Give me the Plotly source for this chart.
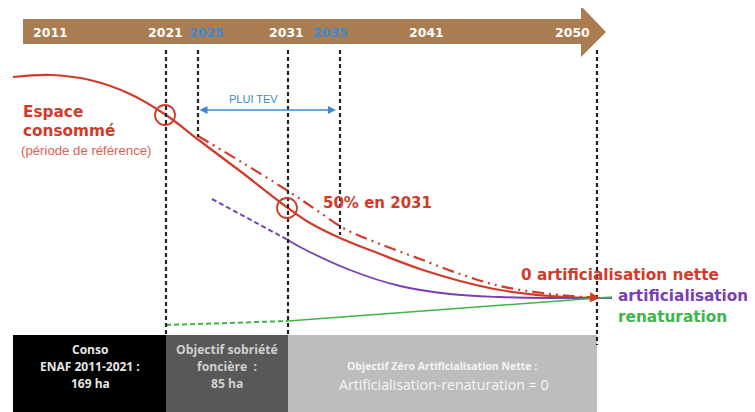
import plotly.graph_objects as go

# ---------------- data (diagram coordinates) ----------------
year_labels = ["2011", "2021", "2025", "2031", "2035", "2041", "2050"]
year_label_pos = [50, 165, 206, 286, 330, 426, 572]
year_label_colors = ["white", "white", "#3a8ad8", "white", "#3a8ad8", "white", "white"]

vline_years = ["2021", "2025", "2031", "2035", "2050"]
vline_x = [166, 198, 288, 340, 597]
vline_bottom = [335, 137, 335, 235, 345]

# espace consommé (trajectory, solid red)
espace_x = [13, 50, 90, 130, 166, 200, 240, 288, 310, 340, 380, 420, 460, 500, 550, 598]
espace_y = [77, 75, 80, 94, 115, 141, 171, 208, 223, 238, 254, 269, 281, 290, 296, 298]

# -50% trajectory (dash-dot red)
objectif_x = [198, 243, 288, 315, 345, 380, 420, 460, 500, 550, 598]
objectif_y = [136, 163, 191, 209, 229, 244, 259, 274, 286, 294, 298]

# artificialisation (purple)
artif_dash_x = [212, 288]
artif_dash_y = [199, 240]
artif_x = [288, 300, 350, 400, 450, 500, 550, 612]
artif_y = [240, 247, 270, 286, 294, 297, 298, 298]

# renaturation (green)
renat_dash_x = [166, 288]
renat_dash_y = [325, 321]
renat_x = [288, 612]
renat_y = [321, 297]

# bottom periods
box_x0 = [13, 166, 288]
box_x1 = [166, 288, 597]
box_colors = ["#000000", "#585858", "#bdbdbd"]

RED = "#d23a2a"
PURPLE = "#7a3fb4"
GREEN = "#3db64a"
BLUE = "#3a8ad8"
BROWN = "#a97c51"

fig = go.Figure()

# curves
fig.add_trace(go.Scatter(x=espace_x, y=espace_y, mode="lines",
                         line=dict(color=RED, width=2.2, shape="spline"), hoverinfo="skip"))
fig.add_trace(go.Scatter(x=objectif_x, y=objectif_y, mode="lines",
                         line=dict(color=RED, width=2.2, dash="12px,5px,2px,5px,2px,5px", shape="spline"),
                         hoverinfo="skip"))
fig.add_trace(go.Scatter(x=artif_dash_x, y=artif_dash_y, mode="lines",
                         line=dict(color=PURPLE, width=2, dash="5px,3px"), hoverinfo="skip"))
fig.add_trace(go.Scatter(x=artif_x, y=artif_y, mode="lines",
                         line=dict(color=PURPLE, width=1.8, shape="spline"), hoverinfo="skip"))
fig.add_trace(go.Scatter(x=renat_dash_x, y=renat_dash_y, mode="lines",
                         line=dict(color=GREEN, width=2, dash="5px,3px"), hoverinfo="skip"))
fig.add_trace(go.Scatter(x=renat_x, y=renat_y, mode="lines",
                         line=dict(color=GREEN, width=1.6), hoverinfo="skip"))

shapes = []
# timeline arrow
shapes.append(dict(type="path", xref="x", yref="y",
                   path="M 23,19 L 581,19 L 581,6 L 606,32 L 581,57 L 581,44 L 23,44 Z",
                   fillcolor=BROWN, line=dict(width=0), layer="below"))
# bottom boxes
for x0, x1, c in zip(box_x0, box_x1, box_colors):
    shapes.append(dict(type="rect", xref="x", yref="y", x0=x0, x1=x1, y0=335, y1=412,
                       fillcolor=c, line=dict(width=0), layer="below"))
# vertical dashed lines
for x, yb in zip(vline_x, vline_bottom):
    shapes.append(dict(type="line", xref="x", yref="y", x0=x, x1=x, y0=50, y1=yb,
                       line=dict(color="#222222", width=2.2, dash="4px,3px")))
# circles
for cx, cy in [(165, 115), (287, 208)]:
    shapes.append(dict(type="circle", xref="x", yref="y", x0=cx - 10, x1=cx + 10,
                       y0=cy - 10, y1=cy + 10, line=dict(color=RED, width=1.8)))

annotations = []
BOLD_FONT = "DejaVu Sans"
for lab, x, c in zip(year_labels, year_label_pos, year_label_colors):
    annotations.append(dict(x=x, y=32, text="<b>%s</b>" % lab, showarrow=False,
                            font=dict(family=BOLD_FONT, size=12.5, color=c),
                            xanchor="center", yanchor="middle"))

def txt(x, y, text, size, color, anchor="left", family="Liberation Sans, Arial"):
    annotations.append(dict(x=x, y=y, text=text, showarrow=False, xanchor=anchor,
                            yanchor="middle", font=dict(family=family, size=size, color=color)))

txt(21, 112, "<b>Espace</b>", 15.3, RED, family=BOLD_FONT)
txt(21, 131, "<b>consommé</b>", 15.3, RED, family=BOLD_FONT)
txt(19, 150, "(période de référence)", 13.2, "#e0604e")
txt(253, 99, "PLUI TEV", 11, BLUE, "center")
txt(321, 203, "<b>50% en 2031</b>", 15, RED, family=BOLD_FONT)
txt(519, 275, "<b>0 artificialisation nette</b>", 15.3, RED, family=BOLD_FONT)
txt(616, 296, "<b>artificialisation</b>", 15.3, PURPLE, family=BOLD_FONT)
txt(616, 317, "<b>renaturation</b>", 15.3, GREEN, family=BOLD_FONT)

# PLUI TEV double arrow
annotations.append(dict(x=336, y=110, ax=198, ay=110, axref="x", ayref="y", xref="x", yref="y",
                        text="", showarrow=True, arrowhead=2, arrowside="end+start",
                        arrowsize=1, arrowwidth=1.6, arrowcolor=BLUE))
# arrow at end of red trajectory
annotations.append(dict(x=600, y=298, ax=585, ay=297, axref="x", ayref="y", xref="x", yref="y",
                        text="", showarrow=True, arrowhead=2, arrowsize=1, arrowwidth=2,
                        arrowcolor=RED))

BOX_FONT = "Open Sans, Noto Sans"
txt(90, 349, "<b>Conso</b>", 12, "#e6e6e6", "center", BOX_FONT)
txt(90, 366, "<b>ENAF 2011-2021 :</b>", 12, "#e6e6e6", "center", BOX_FONT)
txt(90, 383, "<b>169 ha</b>", 12, "#e6e6e6", "center", BOX_FONT)
txt(227, 349, "<b>Objectif sobriété</b>", 12.2, "#d0d0d0", "center", BOX_FONT)
txt(227, 366, "<b>foncière  :</b>", 12.2, "#d0d0d0", "center", BOX_FONT)
txt(227, 383, "<b>85 ha</b>", 12.2, "#d0d0d0", "center", BOX_FONT)
txt(442, 366, "<b>Objectif Zéro Artificialisation Nette :</b>", 10.5, "#f4f4f4", "center", BOX_FONT)
txt(444, 384, "Artificialisation-renaturation = 0", 14.2, "#f6f6f6", "center", BOX_FONT)

# the page body has an 8px margin: shift the plotting area so diagram units = page pixels
fig.update_layout(
    width=747, height=404, margin=dict(l=0, r=0, t=0, b=0),
    paper_bgcolor="white", plot_bgcolor="white", showlegend=False,
    xaxis=dict(range=[8, 755], visible=False, fixedrange=True),
    yaxis=dict(range=[412, 8], visible=False, fixedrange=True),
    shapes=shapes, annotations=annotations,
)

fig.write_html("out.html")
